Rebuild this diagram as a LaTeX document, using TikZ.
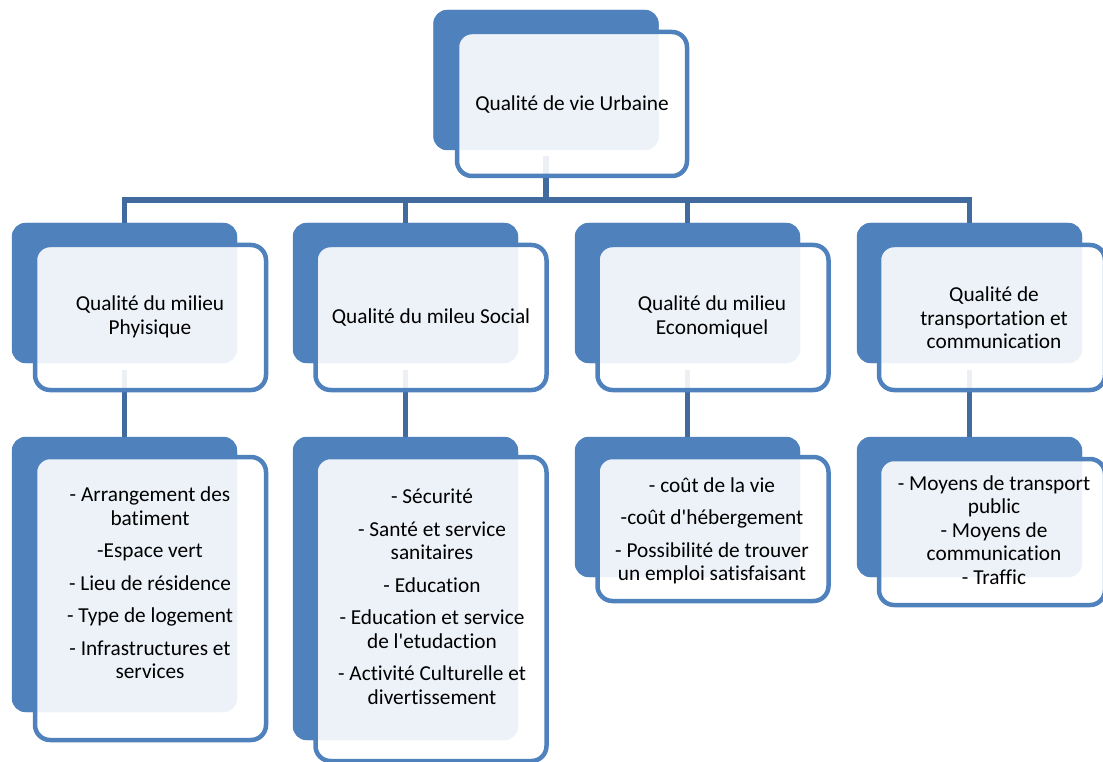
\documentclass[tikz,border=0pt]{standalone}
\usepackage{fontspec}
% plain family: straight apostrophes, no ligatures
\newfontfamily\boxfont{Carlito}[Ligatures=NoCommon]
\definecolor{boxblue}{RGB}{79,129,189}
\definecolor{linkblue}{RGB}{65,106,158}
\begin{document}
\begin{tikzpicture}[x=1pt,y=-1pt,
  back/.style={rectangle, rounded corners=14pt, fill=boxblue, draw=none,
               minimum width=225pt, inner sep=0pt},
  front/.style={rectangle, rounded corners=15pt, draw=boxblue, line width=4.5pt,
                fill=white, fill opacity=0.9, draw opacity=1, inner sep=0pt},
  label/.style={align=center, inner sep=0pt, text=black,
                font=\boxfont\fontsize{21.3}{23.5}\selectfont},
  conn/.style={draw=linkblue, line width=5.5pt}]
\useasboundingbox (0,0) rectangle (1103,762);
\clip (0,0) rectangle (1103,762);

% dark background boxes (anchors for the connectors)
\node[back, minimum height=140pt] (b0) at (546,80) {};
\node[back, minimum height=140pt] (b1) at (124.5,293) {};
\node[back, minimum height=140pt] (b2) at (405.5,293) {};
\node[back, minimum height=140pt] (b3) at (687.5,293) {};
\node[back, minimum height=140pt] (b4) at (969.5,293) {};
\node[back, minimum height=275pt] (c1) at (124.5,574.5) {};
\node[back, minimum height=303pt] (c2) at (405.5,588.5) {};
\node[back, minimum height=140pt] (c3) at (687.5,507) {};
\node[back, minimum height=140pt] (c4) at (969.5,507) {};

% connectors (they show faintly through the translucent front boxes)
\coordinate (hub) at (546,200);
\draw[conn] ([yshift=-6pt]b0.south) -- (hub);
\draw[conn] (hub) -| (b1.north);
\draw[conn] (hub) -| (b2.north);
\draw[conn] (hub) -| (b3.north);
\draw[conn] (hub) -| (b4.north);
\draw[conn] ([yshift=-7pt]b1.south) -- (c1.north);
\draw[conn] ([yshift=-7pt]b2.south) -- (c2.north);
\draw[conn] ([yshift=-7pt]b3.south) -- (c3.north);
\draw[conn] ([yshift=-7pt]b4.south) -- (c4.north);

% dark boxes repainted over the connector ends
\foreach \n in {b0,b1,b2,b3,b4,c1,c2,c3,c4}
  \fill[boxblue, rounded corners=14pt] (\n.south west) rectangle (\n.north east);

% translucent front boxes
\node[front, minimum width=230pt, minimum height=144pt] (f0) at (572,104) {};
\node[front, minimum width=231pt, minimum height=145pt] (f1) at (150.5,317.5) {};
\node[front, minimum width=231pt, minimum height=145pt] (f2) at (431,317.5) {};
\node[front, minimum width=231pt, minimum height=145pt] (f3) at (713,317.5) {};
\node[front, minimum width=226pt, minimum height=145pt] (f4) at (992,317.5) {};
\node[front, minimum width=231pt, minimum height=283pt] (g1) at (150.5,598.5) {};
\node[front, minimum width=231pt, minimum height=304pt] (g2) at (431,609) {};
\node[front, minimum width=231pt, minimum height=144pt] (g3) at (713,529) {};
\node[front, minimum width=226pt, minimum height=146pt] (g4) at (992,532) {};

% texts
\node[label] (t0) at (572,105) {Qualité de vie Urbaine};
\node[label] (t1) at (150,317) {Qualité du milieu\\Phyisique};
\node[label] (t2) at (431,318) {Qualité du mileu Social};
\node[label] (t3) at (712,317) {Qualité du milieu\\Economiquel};
\node[label] (t4) at (994,318) {Qualité de\\transportation et\\communication};
\node[label] (u1) at (150,583) {- Arrangement des\\batiment\\[9pt]-Espace vert\\[9pt]- Lieu de résidence\\[9pt]- Type de logement\\[9pt]- Infrastructures et\\services};
\node[label] (u2) at (432,596.5) {- Sécurité\\[9pt]- Santé et service\\sanitaires\\[9pt]- Education\\[9pt]- Education et service\\de l'etudaction\\[9pt]- Activité Culturelle et\\divertissement};
\node[label] (u3) at (712,531) {- coût de la vie\\[9pt]-coût d'hébergement\\[9pt]- Possibilité de trouver\\un emploi satisfaisant};
\node[label] (u4) at (994,530) {- Moyens de transport\\public\\- Moyens de\\communication\\- Traffic};
\end{tikzpicture}
\end{document}
